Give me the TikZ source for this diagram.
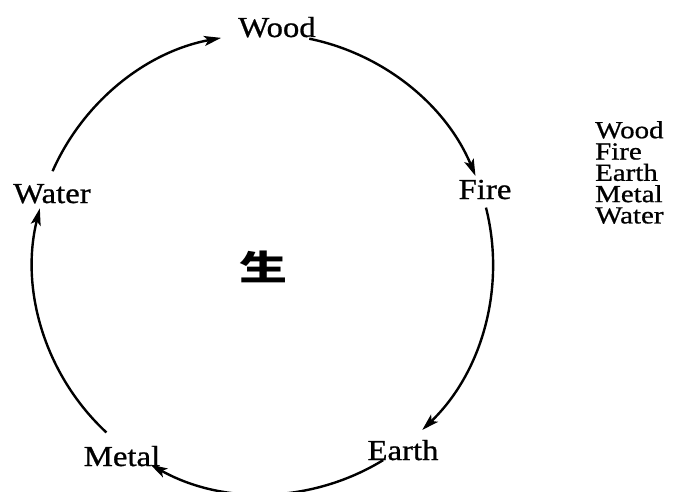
\documentclass[tikz,border=0pt]{standalone}
\usepackage{fontspec}
\setmainfont{Liberation Serif}
\newfontfamily\lbfont{Liberation Serif}[FakeStretch=1.13, FakeBold=0.8]
\newfontfamily\lsfont{Liberation Serif}[FakeStretch=1.18, FakeBold=0.8]
\newfontfamily\cjk{Noto Sans CJK SC}
\usetikzlibrary{arrows.meta}
\begin{document}
\begin{tikzpicture}[x=1pt,y=1pt,
  cyc/.style={line width=2.4pt, -{Stealth[length=17pt,width=10pt,inset=4pt]}},
  lbl/.style={font=\lbfont\fontsize{29}{34}\selectfont, anchor=base, inner sep=0pt},
  lst/.style={font=\lsfont\fontsize{24.5}{21.3}\selectfont, anchor=north west, inner sep=0pt, align=left}]
\useasboundingbox[fill=white] (0,0) rectangle (676,491);
\coordinate (c) at (263,227);
\node[lbl] (wood) at (277,454) {Wood};
\node[lbl] (fire) at (485,292) {Fire};
\node[lbl] (earth) at (403,31) {Earth};
\node[lbl] (metal) at (122,25) {Metal};
\node[lbl] (water) at (52,288) {Water};
\node[inner sep=0pt, font=\cjk\bfseries\fontsize{48}{52}\selectfont, yscale=0.72] (sheng) at (263,224) {生};
\node[lst] (list) at (595,370) {Wood\\Fire\\Earth\\Metal\\Water};
\draw[cyc] ([shift={(78.4:230)}]c) arc[start angle=78.4, end angle=22.5, radius=230];
\draw[cyc] ([shift={(14.2:230)}]c) arc[start angle=14.2, end angle=-46.2, radius=230];
\draw[cyc] ([shift={(-58.5:230)}]c) arc[start angle=-58.5, end angle=-119.3, radius=230];
\draw[cyc] ([shift={(-132.9:230)}]c) arc[start angle=-132.9, end angle=-194, radius=230];
\draw[cyc] ([shift={(156.2:230)}]c) arc[start angle=156.2, end angle=100.5, radius=230];
\end{tikzpicture}
\end{document}
